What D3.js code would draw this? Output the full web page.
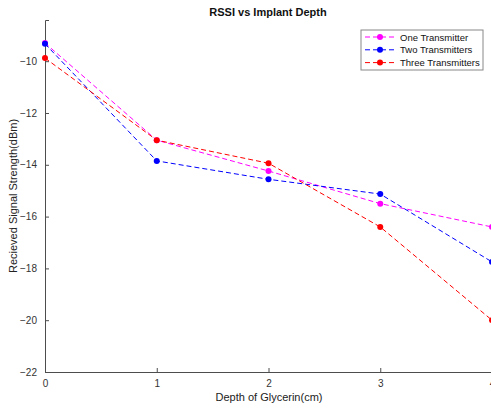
<!DOCTYPE html>
<html>
<head>
<meta charset="utf-8">
<script src="https://cdn.jsdelivr.net/npm/d3@7"></script>
<style>
body{margin:0;background:#fff;}
svg{display:block;font-family:"Liberation Sans",Arial,Helvetica,sans-serif;}
</style>
</head>
<body>
<script>
// data
const depths=[0,1,2,3,4]
const oneTx=[-9.3,-13.05,-14.24,-15.5,-16.4]
const twoTx=[-9.33,-13.85,-14.56,-15.13,-17.75]
const threeTx=[-9.88,-13.05,-13.94,-16.4,-20.0]
const seriesNames=["One Transmitter","Two Transmitters","Three Transmitters"]
const xTicks=[0,1,2,3,4]
const yTicks=[-22,-20,-18,-16,-14,-12,-10]

const w=491,h=411
const svg=d3.select("body").append("svg").attr("width",w).attr("height",h)

const x=d3.scaleLinear().domain([0,4]).range([45,492])
const y=d3.scaleLinear().domain([-22,-8.41]).range([372,20])

const axisCol="#4d4d4d"

// axes (ticks inside like matlab)
const gx=svg.append("g").attr("transform","translate(0,372)")
  .call(d3.axisBottom(x).tickValues(xTicks).tickSize(-4).tickPadding(8).tickFormat(d3.format("d")))
const gy=svg.append("g").attr("transform","translate(45,0)")
  .call(d3.axisLeft(y).tickValues(yTicks).tickSize(-4).tickPadding(8))
;[gx,gy].forEach(g=>{
  g.select(".domain").attr("stroke",axisCol).attr("stroke-width",1)
  g.selectAll(".tick line").attr("stroke",axisCol)
  g.selectAll(".tick text").attr("fill","#333").style("font-size","10px").style("font-family","'Liberation Sans',Arial,sans-serif")
})

const series=[
  {name:seriesNames[0],vals:oneTx,col:"#ff00ff"},
  {name:seriesNames[1],vals:twoTx,col:"#0000ff"},
  {name:seriesNames[2],vals:threeTx,col:"#ff0000"}
]

const line=d3.line().x((d,i)=>x(depths[i])).y(d=>y(d))

series.forEach(s=>{
  svg.append("path").datum(s.vals)
    .attr("d",line).attr("fill","none")
    .attr("stroke",s.col).attr("stroke-width",1)
    .attr("stroke-dasharray","5,3")
  svg.selectAll(null).data(s.vals).enter().append("circle")
    .attr("cx",(d,i)=>x(depths[i])).attr("cy",d=>y(d))
    .attr("r",3).attr("fill",s.col)
})

// title and labels
svg.append("text").attr("x",268).attr("y",16).attr("text-anchor","middle")
  .style("font-size","11px").style("font-weight","bold").attr("fill","#111")
  .text("RSSI vs Implant Depth")
svg.append("text").attr("x",269).attr("y",401).attr("text-anchor","middle")
  .style("font-size","11px").attr("fill","#222").text("Depth of Glycerin(cm)")
svg.append("text").attr("transform","translate(17,196) rotate(-90)").attr("text-anchor","middle")
  .style("font-size","11px").attr("fill","#222").text("Recieved Signal Strength(dBm)")

// legend
const lg=svg.append("g").attr("transform","translate(361,30)")
lg.append("rect").attr("width",122).attr("height",40).attr("fill","#fff")
  .attr("stroke","#888").attr("stroke-width",1)
series.forEach((s,i)=>{
  const yy=7+i*12.8
  lg.append("line").attr("x1",4).attr("x2",34).attr("y1",yy).attr("y2",yy)
    .attr("stroke",s.col).attr("stroke-dasharray","5,3")
  lg.append("circle").attr("cx",19).attr("cy",yy).attr("r",3).attr("fill",s.col)
  lg.append("text").attr("x",39).attr("y",yy+3.5).style("font-size","9.5px")
    .attr("fill","#111").text(s.name)
})
</script>
</body>
</html>
